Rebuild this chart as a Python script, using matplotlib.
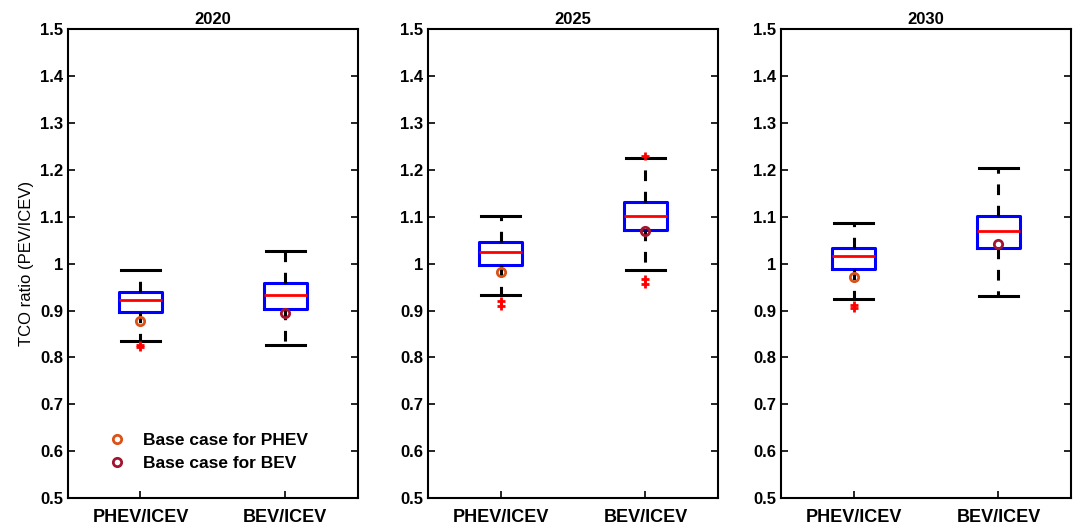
import matplotlib.pyplot as plt
from matplotlib.ticker import FuncFormatter

plt.rcParams['font.family'] = ['Liberation Sans', 'DejaVu Sans']

years = ["2020", "2025", "2030"]
categories = ["PHEV/ICEV", "BEV/ICEV"]

# per year: [PHEV, BEV]
whislo = [[0.835, 0.826], [0.933, 0.986], [0.924, 0.931]]
q1 = [[0.897, 0.903], [0.997, 1.071], [0.988, 1.033]]
med = [[0.922, 0.933], [1.024, 1.101], [1.016, 1.069]]
q3 = [[0.939, 0.958], [1.046, 1.131], [1.033, 1.101]]
whishi = [[0.986, 1.027], [1.101, 1.225], [1.086, 1.204]]
outliers = [[[0.826, 0.822], []],
            [[0.92, 0.91], [1.23, 0.968, 0.956]],
            [[0.912, 0.905], []]]
base_phev = [0.877, 0.982, 0.971]
base_bev = [0.894, 1.070, 1.041]

fig = plt.figure(figsize=(10.73, 5.31), dpi=100)
lefts = [0.0634, 0.399, 0.728]

for i, year in enumerate(years):
    ax = fig.add_axes([lefts[i], 0.062, 0.270, 0.883])
    stats = []
    for j in range(2):
        stats.append(dict(whislo=whislo[i][j], q1=q1[i][j], med=med[i][j],
                          q3=q3[i][j], whishi=whishi[i][j], fliers=outliers[i][j]))
    ax.bxp(stats, positions=[1, 2], widths=0.30, capwidths=0.27,
           boxprops=dict(color='blue', linewidth=2.2),
           medianprops=dict(color='red', linewidth=2),
           whiskerprops=dict(color='black', linewidth=2.2, linestyle=(0, (3.5, 3.5))),
           capprops=dict(color='black', linewidth=2.2),
           flierprops=dict(marker='+', markeredgecolor='red', markersize=6,
                           markeredgewidth=2))
    ax.plot([1], [base_phev[i]], 'o', mfc='none', mec='#D95319', mew=2,
            ms=6, label='Base case for PHEV', zorder=5)
    ax.plot([2], [base_bev[i]], 'o', mfc='none', mec='#A2142F', mew=2,
            ms=6, label='Base case for BEV', zorder=5)
    ax.set_xlim(0.5, 2.5)
    ax.set_ylim(0.5, 1.5)
    ax.set_yticks([0.5 + 0.1 * k for k in range(11)])
    ax.yaxis.set_major_formatter(FuncFormatter(lambda v, p: f"{v:g}" if abs(v - 1) > 1e-9 else "1"))
    ax.set_xticks([1, 2])
    ax.set_xticklabels(categories)
    ax.tick_params(direction='in', right=True, top=False, length=5, width=1.2,
                   labelsize=12)
    for lab in ax.get_xticklabels() + ax.get_yticklabels():
        lab.set_fontweight('bold')
    ax.tick_params(axis='x', labelsize=13, pad=8)
    for s in ax.spines.values():
        s.set_linewidth(1.5)
    ax.set_title(year, fontweight='bold', fontsize=12, pad=4)
    if i == 0:
        ax.set_ylabel('TCO ratio (PEV/ICEV)', fontsize=12)
        ax.legend(loc='lower left', frameon=False, bbox_to_anchor=(0.08, 0.025),
                  prop=dict(weight='bold', size=12.5), handletextpad=0.9,
                  labelspacing=0.45, handlelength=1.2)

fig.savefig("out.png", dpi=100)
